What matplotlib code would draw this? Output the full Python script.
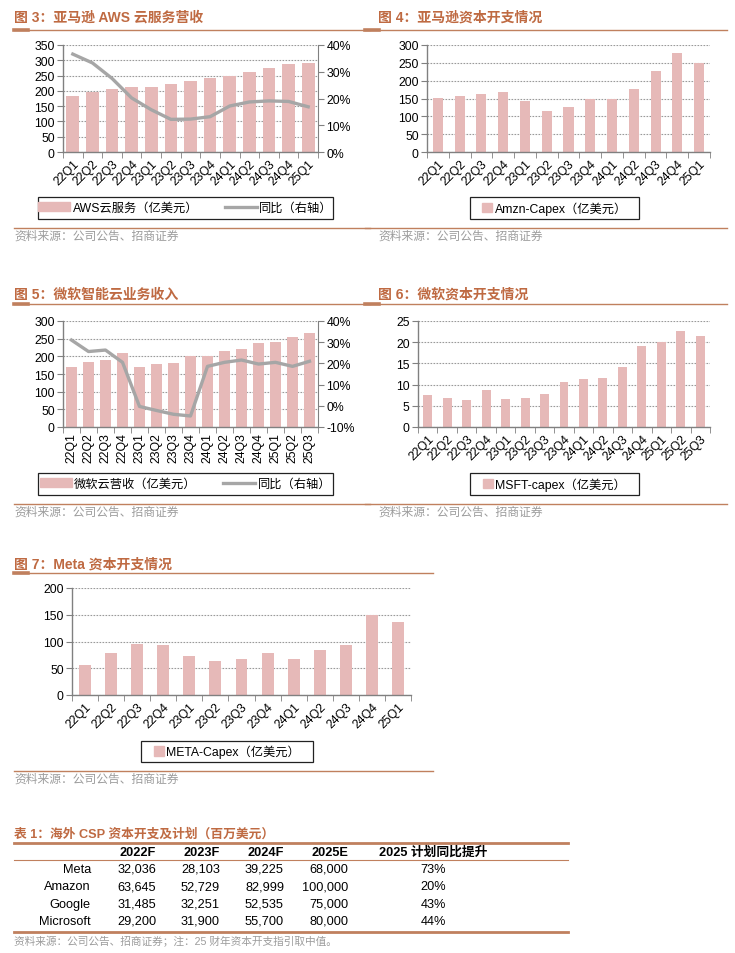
import matplotlib
matplotlib.use("Agg")
import matplotlib.pyplot as plt
from matplotlib.patches import Rectangle, Patch
from matplotlib.lines import Line2D
from matplotlib.ticker import FuncFormatter, FixedLocator
import numpy as np

plt.rcParams['font.family'] = ['Liberation Sans', 'Noto Sans CJK SC']
plt.rcParams['axes.unicode_minus'] = False

# ---------------- data ----------------
q13 = ["22Q1", "22Q2", "22Q3", "22Q4", "23Q1", "23Q2", "23Q3", "23Q4",
       "24Q1", "24Q2", "24Q3", "24Q4", "25Q1"]
q15 = q13 + ["25Q2", "25Q3"]

aws_rev = [184, 197, 205, 214, 214, 221, 231, 242, 250, 263, 275, 288, 292]
aws_yoy = [36.6, 33.3, 27.5, 20.2, 15.8, 12.2, 12.3, 13.2, 17.2, 18.7, 19.1, 18.9, 16.9]

amzn_capex = [151, 158, 164, 167, 143, 116, 125, 148, 150, 176, 226, 278, 250]

msft_cloud = [170, 183, 190, 209, 169, 178, 182, 200, 200, 214, 221, 237, 240, 255, 267]
msft_yoy = [31.0, 25.6, 26.3, 20.5, -0.3, -2.2, -4.0, -4.8, 18.6, 20.5, 21.6, 19.7, 20.5, 18.6, 21.0]

msft_capex = [7.5, 6.9, 6.3, 8.8, 6.6, 6.9, 7.9, 10.7, 11.3, 11.6, 14.1, 19.1, 20.0, 22.7, 21.4]

meta_capex = [56, 78, 96, 93, 72, 64, 68, 79, 67, 85, 93, 149, 137]

table_cols = ["2022F", "2023F", "2024F", "2025E", "2025 计划同比提升"]
table_rows = ["Meta", "Amazon", "Google", "Microsoft"]
table_values = [
    ["32,036", "28,103", "39,225", "68,000", "73%"],
    ["63,645", "52,729", "82,999", "100,000", "20%"],
    ["31,485", "32,251", "52,535", "75,000", "43%"],
    ["29,200", "31,900", "55,700", "80,000", "44%"],
]

# ---------------- style ----------------
W, H = 735, 954
BAR = "#E6B9B8"
LINE = "#A6A6A6"
ORANGE = "#C0805E"
TITLE_C = "#BF6A42"
AXC = "#808080"
GRID = "#9A9A9A"
SRC = "#9C9C9C"
TICKFS = 8.8

fig = plt.figure(figsize=(W / 100, H / 100), dpi=100)


def fx(px):
    return px / W


def fy(py):
    return 1 - py / H


def hline(x0, x1, y, lw=1.0, thick=True):
    fig.add_artist(Line2D([fx(x0), fx(x1)], [fy(y), fy(y)], color=ORANGE, lw=lw,
                          transform=fig.transFigure))
    if thick:
        fig.add_artist(Line2D([fx(x0), fx(x0 + 14)], [fy(y), fy(y)], color=ORANGE, lw=2.6,
                              transform=fig.transFigure))


def title(x, y, s, fs=10.0):
    fig.text(fx(x), fy(y), s, fontsize=fs, fontweight='bold', color=TITLE_C,
             ha='left', va='center')


def source(x, y, s="资料来源：公司公告、招商证券", fs=8.5):
    fig.text(fx(x), fy(y), s, fontsize=fs, color=SRC, ha='left', va='center')


def make_ax(l, r, t, b):
    return fig.add_axes([fx(l), fy(b), fx(r) - fx(l), (b - t) / H])


def style_ax(ax, labels, ymax, ystep, rot=45):
    n = len(labels)
    ax.set_xlim(-0.5, n - 0.5)
    ax.set_ylim(0, ymax)
    ax.set_yticks(np.arange(0, ymax + ystep / 2, ystep))
    ax.yaxis.grid(True, linestyle=(0, (1.5, 1.2)), color=GRID, lw=0.8)
    ax.set_axisbelow(True)
    for s in ["top", "right"]:
        ax.spines[s].set_visible(False)
    for s in ["left", "bottom"]:
        ax.spines[s].set_color(AXC)
        ax.spines[s].set_linewidth(1.0)
    ax.set_xticks(np.arange(n))
    if rot == 90:
        ax.set_xticklabels(labels, rotation=90, ha='center', va='top', fontsize=TICKFS)
    else:
        ax.set_xticklabels(labels, rotation=45, ha='right', va='top',
                           rotation_mode='anchor', fontsize=TICKFS)
    ax.xaxis.set_minor_locator(FixedLocator(np.arange(-0.5, n, 1.0)))
    ax.tick_params(axis='x', which='major', length=0, pad=4)
    ax.tick_params(axis='x', which='minor', length=4, color=AXC, direction='out')
    ax.tick_params(axis='y', length=4, color=AXC, direction='out', labelsize=TICKFS, pad=2)


def legend_box(x0, x1, y0, y1, handles, labels, handlelength, ncol, colsp=3.0):
    fig.add_artist(Rectangle((fx(x0), fy(y1)), fx(x1) - fx(x0), (y1 - y0) / H,
                             transform=fig.transFigure, fill=False, ec="#222222", lw=0.9))
    fig.legend(handles, labels, loc='center',
               bbox_to_anchor=((fx(x0) + fx(x1)) / 2, fy((y0 + y1) / 2)),
               frameon=False, ncol=ncol, fontsize=TICKFS, handlelength=handlelength,
               handleheight=0.8, handletextpad=0.2, columnspacing=colsp, borderpad=0)


pct = FuncFormatter(lambda v, p: f"{v:.0f}%")

# ---------------- Figure 3 : AWS ----------------
title(14, 18, "图 3：亚马逊 AWS 云服务营收")
hline(14, 370, 31)
ax1 = make_ax(63, 318, 46, 153)
x = np.arange(len(q13))
ax1.bar(x, aws_rev, width=0.65, color=BAR, zorder=2)
style_ax(ax1, q13, 350, 50)
ax1b = ax1.twinx()
ax1b.plot(x, aws_yoy, color=LINE, lw=2.4, zorder=3)
ax1b.set_ylim(0, 40)
ax1b.set_yticks(np.arange(0, 41, 10))
ax1b.yaxis.set_major_formatter(pct)
for s in ["top", "left", "bottom"]:
    ax1b.spines[s].set_visible(False)
ax1b.spines["right"].set_color(AXC)
ax1b.tick_params(axis='y', length=4, color=AXC, labelsize=TICKFS, pad=2)
legend_box(38, 333, 198, 220,
           [Patch(color=BAR), Line2D([], [], color=LINE, lw=2.4)],
           ["AWS云服务（亿美元）", "同比（右轴）"], 2.6, 2, 2.2)
hline(14, 370, 229, thick=False)
source(14, 237)

# ---------------- Figure 4 : Amazon capex ----------------
title(378, 18, "图 4：亚马逊资本开支情况")
hline(365, 727, 31)
ax2 = make_ax(427, 710, 46, 153)
ax2.bar(x, amzn_capex, width=0.46, color=BAR, zorder=2)
style_ax(ax2, q13, 300, 50)
legend_box(470, 639, 198, 220, [Patch(color=BAR)], ["Amzn-Capex（亿美元）"], 0.8, 1)
hline(365, 727, 229, thick=False)
source(378, 237)

# ---------------- Figure 5 : Microsoft cloud ----------------
title(14, 295, "图 5：微软智能云业务收入")
hline(14, 370, 305)
ax3 = make_ax(63, 318, 322, 428)
x15 = np.arange(len(q15))
ax3.bar(x15, msft_cloud, width=0.65, color=BAR, zorder=2)
style_ax(ax3, q15, 300, 50, rot=90)
ax3b = ax3.twinx()
ax3b.plot(x15, msft_yoy, color=LINE, lw=2.4, zorder=3)
ax3b.set_ylim(-10, 40)
ax3b.set_yticks(np.arange(-10, 41, 10))
ax3b.yaxis.set_major_formatter(pct)
for s in ["top", "left", "bottom"]:
    ax3b.spines[s].set_visible(False)
ax3b.spines["right"].set_color(AXC)
ax3b.tick_params(axis='y', length=4, color=AXC, labelsize=TICKFS, pad=2)
legend_box(38, 333, 474, 496,
           [Patch(color=BAR), Line2D([], [], color=LINE, lw=2.4)],
           ["微软云营收（亿美元）", "同比（右轴）"], 2.6, 2, 2.2)
hline(14, 370, 505, thick=False)
source(14, 513)

# ---------------- Figure 6 : Microsoft capex ----------------
title(378, 295, "图 6：微软资本开支情况")
hline(365, 727, 305)
ax4 = make_ax(418, 710, 322, 428)
ax4.bar(x15, msft_capex, width=0.46, color=BAR, zorder=2)
style_ax(ax4, q15, 25, 5)
legend_box(470, 639, 474, 496, [Patch(color=BAR)], ["MSFT-capex（亿美元）"], 0.8, 1)
hline(365, 727, 505, thick=False)
source(378, 513)

# ---------------- Figure 7 : Meta capex ----------------
title(14, 565, "图 7：Meta 资本开支情况")
hline(14, 433, 574)
ax5 = make_ax(72, 411, 589, 696)
ax5.bar(x, meta_capex, width=0.46, color=BAR, zorder=2)
style_ax(ax5, q13, 200, 50)
legend_box(141, 313, 742, 763, [Patch(color=BAR)], ["META-Capex（亿美元）"], 0.8, 1)
hline(14, 433, 772, thick=False)
source(14, 780)

# ---------------- Table 1 ----------------
title(14, 834, "表 1：海外 CSP 资本开支及计划（百万美元）", fs=9.2)
fig.add_artist(Line2D([fx(14), fx(568)], [fy(844), fy(844)], color=ORANGE, lw=2.0,
                      transform=fig.transFigure))
fig.add_artist(Line2D([fx(14), fx(568)], [fy(861), fy(861)], color=ORANGE, lw=0.8,
                      transform=fig.transFigure))
fig.add_artist(Line2D([fx(14), fx(568)], [fy(933), fy(933)], color=ORANGE, lw=2.0,
                      transform=fig.transFigure))
col_right = [156, 220, 284, 348]
last_center = 433
TFS = 9.2
for j, c in enumerate(table_cols):
    if j < 4:
        fig.text(fx(col_right[j]), fy(853), c, fontsize=TFS, fontweight='bold',
                 ha='right', va='center')
    else:
        fig.text(fx(last_center), fy(853), c, fontsize=TFS, fontweight='bold',
                 ha='center', va='center')
row_y = [870, 887.5, 905, 922]
for i, r in enumerate(table_rows):
    fig.text(fx(91), fy(row_y[i]), r, fontsize=TFS, ha='right', va='center')
    for j, v in enumerate(table_values[i]):
        if j < 4:
            fig.text(fx(col_right[j]), fy(row_y[i]), v, fontsize=TFS, ha='right', va='center')
        else:
            fig.text(fx(last_center), fy(row_y[i]), v, fontsize=TFS, ha='center', va='center')
source(14, 941, "资料来源：公司公告、招商证券；注：25 财年资本开支指引取中值。", fs=7.7)

fig.savefig("out.png", dpi=100)
